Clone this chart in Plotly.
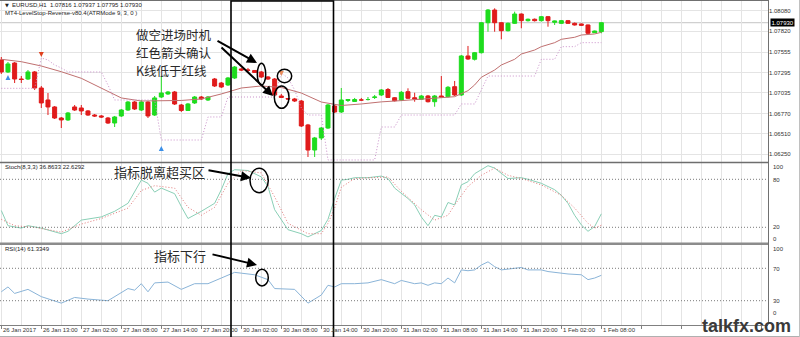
import plotly.graph_objects as go

# ---------------- data ----------------
bars = list(range(91))
opens = [1.07454,1.07301,1.07415,1.07211,1.07211,1.07301,1.07096,1.06943,1.06854,1.06713,
         1.06688,1.06854,1.06841,1.06803,1.06751,1.06739,1.06713,1.06649,1.06739,1.06815,
         1.06917,1.06815,1.06917,1.06751,1.06981,1.07020,1.07045,1.06879,1.06809,1.06905,
         1.06981,1.06943,1.07211,1.07160,1.07135,1.07224,1.07339,1.07326,1.07320,1.07301,
         1.07237,1.07211,1.06994,1.06962,1.06956,1.06930,1.06624,1.06304,1.06458,1.06585,
         1.06866,1.06790,1.06937,1.06924,1.06943,1.06949,1.06975,1.07007,1.07077,1.06972,
         1.06943,1.07049,1.06972,1.06952,1.06994,1.06921,1.06994,1.06985,1.07113,1.07007,
         1.07505,1.07463,1.07547,1.07930,1.08092,1.07930,1.07828,1.07922,1.08041,1.07956,
         1.07974,1.07956,1.08007,1.07935,1.07922,1.07956,1.07922,1.07914,1.07901,1.07802,
         1.07816]
highs = [1.07492,1.07428,1.07428,1.07249,1.07326,1.07313,1.07122,1.07032,1.06866,1.06726,
         1.06790,1.06879,1.06879,1.06815,1.06764,1.06751,1.06726,1.06739,1.06828,1.06930,
         1.06930,1.06943,1.06930,1.06994,1.07249,1.07058,1.07058,1.06892,1.06905,1.06994,
         1.06994,1.06994,1.07224,1.07173,1.07237,1.07377,1.07352,1.07352,1.07326,1.07313,
         1.07249,1.07224,1.07020,1.06969,1.06969,1.06943,1.06637,1.06471,1.06598,1.06892,
         1.06879,1.07096,1.06956,1.06969,1.06969,1.06981,1.07007,1.07083,1.07096,1.06981,
         1.07058,1.07092,1.07036,1.07007,1.07007,1.07007,1.07249,1.07122,1.07186,1.07518,
         1.07633,1.07556,1.07939,1.08105,1.08114,1.07939,1.07933,1.08071,1.08048,1.07984,
         1.07984,1.08016,1.08016,1.07958,1.07965,1.07965,1.07933,1.07920,1.07907,1.07830,
         1.07937]
lows = [1.07275,1.07288,1.07160,1.07160,1.07198,1.07071,1.06841,1.06751,1.06700,1.06585,
        1.06675,1.06803,1.06751,1.06739,1.06726,1.06713,1.06637,1.06598,1.06726,1.06803,
        1.06815,1.06803,1.06713,1.06739,1.06969,1.07007,1.06879,1.06790,1.06803,1.06892,
        1.06943,1.06930,1.07109,1.07096,1.07122,1.07211,1.07313,1.07301,1.07288,1.07224,
        1.07198,1.06994,1.06969,1.06943,1.06917,1.06598,1.06215,1.06215,1.06432,1.06573,
        1.06777,1.06777,1.06917,1.06917,1.06930,1.06937,1.06956,1.06994,1.06969,1.06924,
        1.06930,1.06956,1.06921,1.06943,1.06911,1.06857,1.06969,1.06975,1.06994,1.06994,
        1.07454,1.07447,1.07537,1.07815,1.07815,1.07718,1.07818,1.07914,1.07859,1.07945,
        1.07945,1.07945,1.07879,1.07901,1.07914,1.07914,1.07894,1.07888,1.07786,1.07799,
        1.07795]
closes = [1.07301,1.07403,1.07211,1.07205,1.07301,1.07096,1.06905,1.06854,1.06713,1.06688,
          1.06777,1.06815,1.06803,1.06751,1.06739,1.06726,1.06649,1.06726,1.06815,1.06917,
          1.06828,1.06917,1.06739,1.06969,1.07032,1.07045,1.06892,1.06809,1.06892,1.06981,
          1.06956,1.06981,1.07122,1.07109,1.07224,1.07364,1.07326,1.07322,1.07294,1.07237,
          1.07211,1.07007,1.06975,1.06956,1.06930,1.06611,1.06304,1.06458,1.06585,1.06879,
          1.06790,1.06943,1.06949,1.06949,1.06943,1.06949,1.06981,1.07071,1.06975,1.06934,
          1.07041,1.06965,1.06956,1.06994,1.06921,1.06994,1.06981,1.07105,1.07007,1.07505,
          1.07467,1.07547,1.07930,1.08092,1.07930,1.07828,1.07922,1.08041,1.07956,1.07974,
          1.07956,1.08007,1.07956,1.07952,1.07956,1.07922,1.07901,1.07897,1.07795,1.07824,
          1.07930]

# moving average (solid brown-red line)
ma_bar = [0,3,6,9,12,15,18,21,24,27,30,33,36,39,42,45,48,51,54,57,
          60,63,66,68,70,71,72,74,75,77,78,80,81,83,84,86,87,89,90]
ma_val = [1.07463,1.07432,1.07377,1.07304,1.07220,1.07096,1.06969,1.06930,1.06930,1.06937,
          1.06956,1.07020,1.07096,1.07122,1.07103,1.07032,1.06917,1.06873,1.06892,1.06919,
          1.06935,1.06952,1.06965,1.06985,1.07062,1.07135,1.07233,1.07326,1.07390,1.07463,
          1.07530,1.07581,1.07624,1.07675,1.07718,1.07744,1.07773,1.07786,1.07808]

# LevelStop-Reverse (dotted line), one value per bar
levelstop = [1.07092,1.07092,1.07092,1.07092,1.07092,1.07092,1.07479,1.07454,1.07390,1.07352,
             1.07301,1.07301,1.07301,1.07301,1.07301,1.07301,1.07135,1.06943,1.06943,1.06943,
             1.06943,1.06943,1.06943,1.06943,1.06432,1.06432,1.06432,1.06432,1.06432,1.06432,
             1.06432,1.06726,1.06726,1.06726,1.06981,1.06981,1.06981,1.06981,1.06981,1.06981,
             1.06981,1.06981,1.07288,1.07224,1.07071,1.06841,1.06751,1.06751,1.06751,1.06177,
             1.06177,1.06177,1.06177,1.06177,1.06177,1.06177,1.06177,1.06598,1.06598,1.06598,
             1.06751,1.06751,1.06751,1.06751,1.06751,1.06751,1.06751,1.06751,1.06751,1.06892,
             1.06892,1.06892,1.07071,1.07249,1.07249,1.07249,1.07249,1.07249,1.07249,1.07249,
             1.07249,1.07463,1.07463,1.07463,1.07624,1.07624,1.07624,1.07675,1.07675,1.07675,
             1.07675]

up_arrow_bar = [1, 24]
up_arrow_price = [1.07262, 1.06356]
dn_arrow_bar = [6, 42]
dn_arrow_price = [1.07492, 1.07249]

# Stochastic (8,3,3)
k_bar = [0,1,3,4,6,9,10,12,15,17,19,21,22,23,24,26,27,28,30,32,
         33,34,35,37,39,40,41,43,45,46,48,49,50,51,52,53,55,57,58,59,
         61,62,63,64,65,66,67,68,69,70,71,72,73,74,76,78,79,81,83,84,
         85,86,87,88,89,90]
k_val = [41,22,19,22,19,12,15,29,33,40,50,79,75,64,69,62,46,31,40,50,
         67,87,92,91,83,71,42,17,12,8,16,30,56,79,80,82,82,84,81,69,
         56,48,33,22,35,33,51,48,73,77,87,92,97,94,81,82,80,75,67,60,
         50,35,23,15,21,36.8633]
d_bar = [0,2,5,9,12,15,19,21,23,26,28,30,32,34,36,39,41,43,46,48,
         49,50,51,53,58,60,63,65,67,68,70,72,74,76,78,81,84,86,88,89,90]
d_val = [30,22,20,14,24,31,44,66,72,69,45,35,45,75,91,88,58,25,12,12,
         25,44,70,81,83,65,42,29,35,48,71,85,94,85,81,73,60,44,25,19,22.6292]

# RSI(14)
r_bar = [0,1,2,4,6,9,11,13,16,19,20,21,22,23,25,27,29,31,33,34,
         35,36,38,40,41,44,46,48,49,50,51,53,55,57,59,60,62,63,64,65,
         66,67,68,69,70,71,72,73,74,75,76,78,79,81,82,84,85,87,88,89,90]
r_val = [41,47,39,44,35,27,34,32,30,45,43,51,41,52,53,44,51,51,58,62,
         65,64,62,56,45,44,27,37,49,47,51,51,52,56,51,55,51,52,49,52,
         51,58,52,68,67,68,74,78,72,68,69,71,68,68,66,64,63,62,56,58,61.3349]

price_ticks = [1.08080, 1.07820, 1.07555, 1.07295, 1.07035, 1.06770, 1.06510, 1.06250]
time_tick_bar = [0, 6, 12, 18, 24, 30, 36, 42, 48, 54, 60, 66, 72, 78, 84, 90]
time_tick_text = ["26 Jan 2017", "26 Jan 13:00", "27 Jan 02:00", "27 Jan 08:00", "27 Jan 14:00",
                  "27 Jan 20:00", "30 Jan 02:00", "30 Jan 08:00", "30 Jan 14:00", "30 Jan 20:00",
                  "31 Jan 02:00", "31 Jan 08:00", "31 Jan 14:00", "31 Jan 20:00", "1 Feb 02:00",
                  "1 Feb 08:00"]
stoch_levels = [80, 20]
rsi_levels = [70, 30]
last_price = 1.07930

# ---------------- figure ----------------
W, H = 800, 337
def px(x): return x / W
def py(y): return 1 - y / H

GRID = '#E4E4E4'
SMALL = 'Liberation Sans'
CJK = 'Noto Sans CJK SC'
BULL = '#1EDC1E'
BEAR = '#E01B1B'
FINE_DOT = '1px,2px'

fig = go.Figure()
fig.add_trace(go.Candlestick(
    x=bars, open=opens, high=highs, low=lows, close=closes,
    increasing=dict(line=dict(color=BULL, width=1), fillcolor=BULL),
    decreasing=dict(line=dict(color=BEAR, width=1), fillcolor=BEAR),
    whiskerwidth=0, hoverinfo='skip', xaxis='x', yaxis='y'))
fig.add_trace(go.Scatter(x=ma_bar, y=ma_val, mode='lines', line=dict(color='#C07070', width=1),
                         xaxis='x', yaxis='y', hoverinfo='skip'))
fig.add_trace(go.Scatter(x=bars, y=levelstop, mode='lines',
                         line=dict(color='#C98FC9', width=1, dash=FINE_DOT),
                         xaxis='x', yaxis='y', hoverinfo='skip'))
fig.add_trace(go.Scatter(x=up_arrow_bar, y=up_arrow_price, mode='markers',
                         marker=dict(symbol='arrow-up', size=5, color='#3A8FE8'),
                         xaxis='x', yaxis='y', hoverinfo='skip'))
fig.add_trace(go.Scatter(x=dn_arrow_bar, y=dn_arrow_price, mode='markers',
                         marker=dict(symbol='arrow-down', size=5, color=['#E0401E', '#E88A5A']),
                         xaxis='x', yaxis='y', hoverinfo='skip'))
fig.add_trace(go.Scatter(x=k_bar, y=k_val, mode='lines', line=dict(color='#8ACFB6', width=1),
                         xaxis='x', yaxis='y2', hoverinfo='skip'))
fig.add_trace(go.Scatter(x=d_bar, y=d_val, mode='lines', line=dict(color='#E07878', width=1, dash=FINE_DOT),
                         xaxis='x', yaxis='y2', hoverinfo='skip'))
fig.add_trace(go.Scatter(x=r_bar, y=r_val, mode='lines', line=dict(color='#8AB4D8', width=1),
                         xaxis='x', yaxis='y3', hoverinfo='skip'))

shapes = []
def hline(y, x0=0, x1=768, color='#707070', width=1):
    shapes.append(dict(type='line', xref='paper', yref='paper', x0=px(x0), x1=px(x1),
                       y0=py(y), y1=py(y), line=dict(color=color, width=width)))
hline(0.5, color='#707070')
hline(162.6, color='#6E6E6E', width=1.5)
hline(243.8, color='#8C8C8C', width=2.5)
hline(336.5, x0=0, x1=800, color='#B0B0B0')
shapes.append(dict(type='line', xref='paper', yref='paper', x0=px(768.5), x1=px(768.5),
                   y0=py(0), y1=py(324.5), line=dict(color='#707070', width=1)))
shapes.append(dict(type='line', xref='paper', yref='paper', x0=px(799.5), x1=px(799.5),
                   y0=py(0), y1=py(337), line=dict(color='#C0C0C0', width=1)))
# bid line
shapes.append(dict(type='line', xref='paper', yref='y', x0=0, x1=px(768), y0=last_price, y1=last_price,
                   line=dict(color='#C4C4C4', width=1), layer='below'))
for lv in stoch_levels:
    shapes.append(dict(type='line', xref='paper', yref='y2', x0=0, x1=px(768), y0=lv, y1=lv,
                       line=dict(color='#7A7A7A', width=1, dash=FINE_DOT)))
for lv in rsi_levels:
    shapes.append(dict(type='line', xref='paper', yref='y3', x0=0, x1=px(768), y0=lv, y1=lv,
                       line=dict(color='#7A7A7A', width=1, dash=FINE_DOT)))
# black highlight rectangle
shapes.append(dict(type='rect', xref='paper', yref='paper', x0=px(231), x1=px(333.5),
                   y0=py(345), y1=py(1), line=dict(color='black', width=1.6)))
# ellipses
for (x0, x1, y0, y1) in [(257.3, 265.7, 63.3, 85), (277.3, 291.7, 69.3, 82.7), (274.3, 289, 86, 108.3),
                         (250, 268.3, 168.3, 192.7), (255.7, 268.3, 269.3, 286)]:
    shapes.append(dict(type='circle', xref='paper', yref='paper', x0=px(x0), x1=px(x1),
                       y0=py(y1), y1=py(y0), line=dict(color='black', width=1.5)))

ann = []
def text(x, y, s, size=6, family=SMALL, color='#222222', xanchor='left', **kw):
    ann.append(dict(x=px(x), y=py(y), xref='paper', yref='paper', text=s, showarrow=False,
                    xanchor=xanchor, yanchor='middle', font=dict(size=size, family=family, color=color), **kw))

for b, t in zip(time_tick_bar, time_tick_text):
    ann.append(dict(x=b, y=py(330), xref='x', yref='paper', text=t, showarrow=False, xanchor='left',
                    yanchor='middle', font=dict(size=6, family=SMALL, color='#333333')))
for lab, yy in [('100', 167), ('80', 180), ('20', 227), ('0', 239),
                ('100', 249), ('70', 269), ('30', 301), ('0', 312.5)]:
    text(772, yy, lab, color='#333333', borderpad=0)
ann.append(dict(x=px(769.5), y=last_price, xref='paper', yref='y', text=f'{last_price:.5f}',
                showarrow=False, xanchor='left', yanchor='middle', bgcolor='black', borderpad=0.5,
                font=dict(size=6, family=SMALL, color='white')))
text(2.5, 5, '\u25BC', size=5, family='DejaVu Sans', color='#222222')
text(10, 5, 'EURUSD,H1  1.07816 1.07937 1.07795 1.07930')
text(3, 12.8, 'MT4-LevelStop-Reverse-v80.4(ATRMode 9, 3, 0 )')
text(3, 167, 'Stoch(8,3,3) 36.8633 22.6292')
text(3, 249.3, 'RSI(14) 61.3349')

text(135, 34.0, '做空进场时机', size=12.5, family=CJK, color='#2A2A2A', borderpad=0)
text(135, 52.2, '红色箭头确认', size=12.5, family=CJK, color='#2A2A2A', borderpad=0)
text(135, 70.4, 'K线低于红线', size=12.5, family=CJK, color='#2A2A2A', borderpad=0)
text(113, 171.7, '指标脱离超买区', size=13, family=CJK, color='#2A2A2A', borderpad=0)
text(153, 255, '指标下行', size=13, family=CJK, color='#2A2A2A', borderpad=0)

def arrow(tx, ty, hx, hy):
    ann.append(dict(x=px(hx), y=py(hy), xref='paper', yref='paper', text='', showarrow=True,
                    ax=tx - hx, ay=ty - hy, arrowhead=2, arrowsize=1, arrowwidth=2,
                    arrowcolor='black', standoff=0, startstandoff=0))
arrow(216, 40, 257, 63)
arrow(220, 46, 273, 96)
arrow(207, 170, 251, 178)
arrow(211, 254, 257, 265)

text(746, 326.3, '<b>talkfx.com</b>', size=18, family=SMALL, color='#3A3A3A', xanchor='center', borderpad=0)

fig.update_layout(
    width=W, height=H, margin=dict(l=0, r=0, t=0, b=0),
    paper_bgcolor='white', plot_bgcolor='white', showlegend=False, hovermode=False,
    boxgap=0.4, boxgroupgap=0,
    xaxis=dict(domain=[0, px(768)], range=[-0.195, 115.0], anchor='y3', showticklabels=False,
               tickmode='linear', tick0=0, dtick=6, ticks='outside', ticklen=3, tickcolor='#808080',
               showgrid=True, gridcolor=GRID, gridwidth=1,
               minor=dict(tick0=0, dtick=3, showgrid=True, gridcolor=GRID, ticks=''),
               zeroline=False, showline=True, linecolor='#808080', linewidth=1,
               rangeslider=dict(visible=False), fixedrange=True),
    yaxis=dict(domain=[py(162), 1], range=[1.06151, 1.0822], side='right', anchor='x',
               tickmode='array', tickvals=price_ticks, ticktext=[f'{v:.5f}' for v in price_ticks],
               tickfont=dict(size=6, family=SMALL, color='#333333'), ticks='', showgrid=True,
               gridcolor=GRID, zeroline=False, showline=False, fixedrange=True),
    yaxis2=dict(domain=[py(243.3), py(163.3)], range=[0, 100], anchor='x', showgrid=False,
                showticklabels=False, zeroline=False, fixedrange=True),
    yaxis3=dict(domain=[py(325), py(244)], range=[0, 100], anchor='x', showgrid=False,
                showticklabels=False, zeroline=False, fixedrange=True),
    shapes=shapes, annotations=ann,
)

fig.write_html('out.html', config={'displayModeBar': False})
